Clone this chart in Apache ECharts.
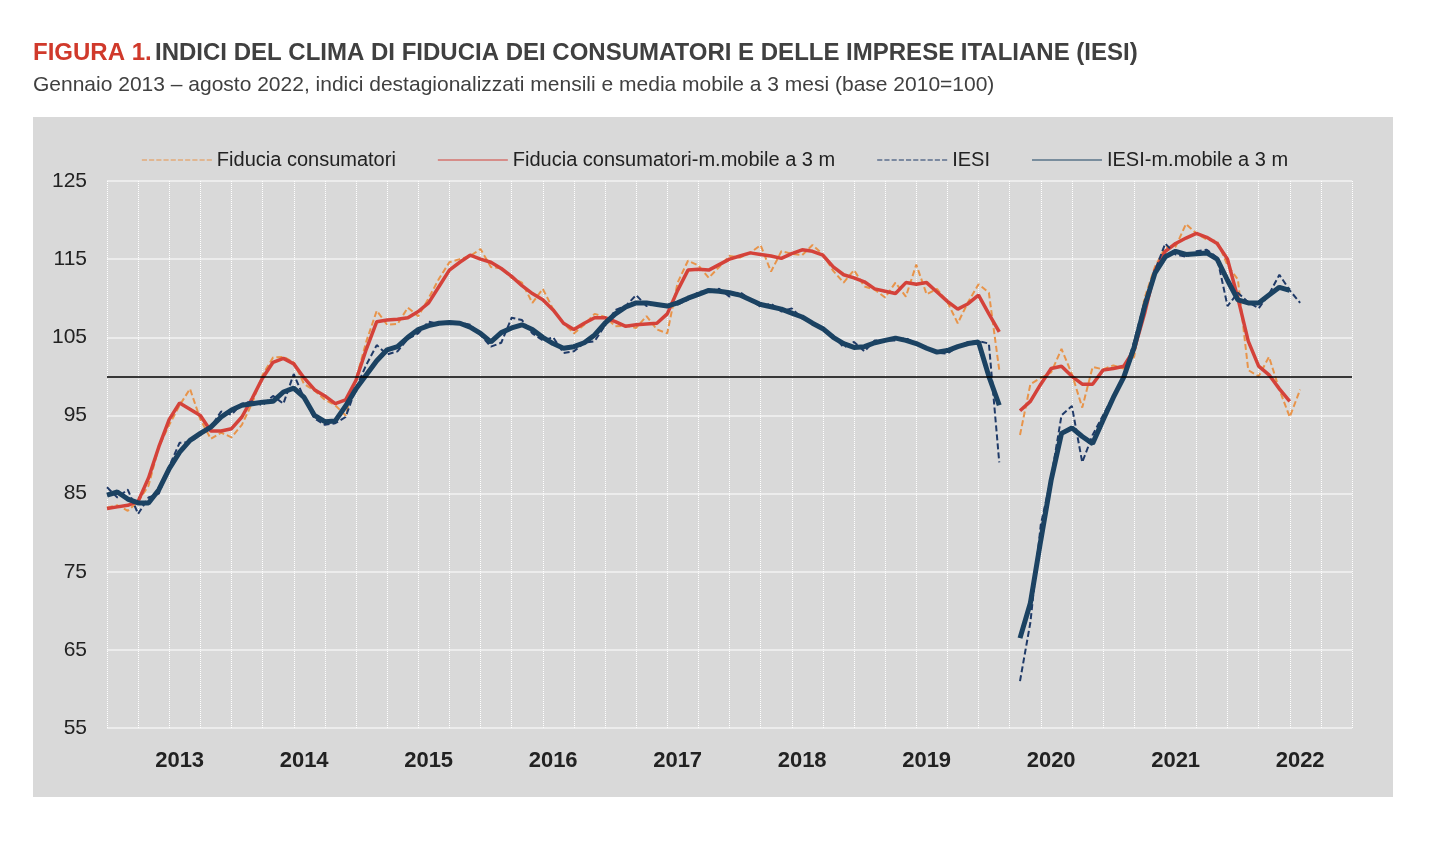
<!DOCTYPE html>
<html><head><meta charset="utf-8">
<script src="https://cdn.jsdelivr.net/npm/echarts@6/dist/echarts.min.js"></script>
<style>html,body{margin:0;padding:0;background:#fff}#c{width:1430px;height:860px}</style>
</head><body><div id="c"></div>
<script>
const startYear = 2013;
const nSlots = 121;
const yearTicks = ['2013','2014','2015','2016','2017','2018','2019','2020','2021','2022'];
const fiducia = [83.2,83.5,82.8,84,86,91,93.8,96.3,98.4,94.5,92,92.8,
92.2,93.8,96.6,100.2,102.4,102.5,101.8,99,98.2,97,96.3,95,
99.6,104.5,108.4,106.6,106.7,108.8,107.7,110,112.5,114.6,115,115.4,
116.3,114,113.8,112.6,112,109.4,111.2,108.6,106.8,105.5,106.6,108,
107.6,106.4,106.5,106.2,107.7,106,105.5,112,114.8,114.2,112.6,114,
115.4,115.2,115.8,116.8,113.4,116,115.7,115.5,116.8,115.6,113.5,112,
113.6,111.5,111.1,110.1,112,110.2,114.3,110.5,111.2,109.5,106.8,109.5,
111.8,110.7,100.8,null,92.5,99,99.8,100.5,103.5,100.3,96,101.2,
100.9,101.4,101,102.5,110,114,116.5,116.6,119.5,118.3,117.5,117.3,
114.2,112.4,100.8,100,102.5,98.3,94.8,98.3];
const fiduciaMM = [83.1,83.3,83.5,84,87,91,94.5,96.6,95.8,95,93,93,
93.3,94.8,97.2,99.8,101.8,102.3,101.6,99.8,98.3,97.5,96.5,97,
99.5,103.5,107,107.2,107.3,107.5,108.3,109.4,111.5,113.6,114.6,115.5,
115,114.6,113.8,112.8,111.6,110.6,109.8,108.5,106.8,106,106.8,107.5,
107.5,107,106.4,106.6,106.7,106.8,108,111,113.6,113.7,113.6,114.3,
115,115.4,115.8,115.6,115.4,115.1,115.7,116.2,116,115.5,114,113,
112.6,112.1,111.2,110.9,110.6,112,111.8,112,110.8,109.6,108.6,109.3,
110.4,108,105.7,null,95.6,96.8,99,101,101.3,100,99,99,
100.8,101,101.3,103.4,108,113.5,116,117,117.7,118.3,117.8,117,
115,110,104.5,101.3,100.2,98.4,96.8];
const iesi = [85.8,84.5,85.5,82.4,84.5,85,88.5,91.5,91.6,92.5,93.5,95.5,
95.1,96.5,96.8,96.3,97.5,96.5,100.3,97.2,94.6,93.8,94,94.8,
98.5,101.5,104,102.8,103.2,104.8,105.5,107,106.7,106.8,106.9,106.6,
105.3,103.8,104.3,107.5,107.2,105.5,104.6,105,103,103.2,104.3,104.5,
106.5,108.5,109,110.4,109,109.3,109,109.2,109.8,110.8,110.9,111.2,
110.2,110.8,109.8,108.9,109.3,108.3,108.7,107.4,106.9,106.1,105.2,103.7,
104.4,103.2,104.6,104.6,104.6,104.9,104.2,103.5,103,102.9,103.8,104.4,
104.5,104.2,89,null,61,68.5,81,87,95,96.2,89,92.5,
95,97.5,100,104.5,109.5,113.5,117,115.6,115.3,116,116.2,115.2,
109,110.7,109.5,108.7,110.5,113,111,109.4];
const iesiMM = [84.8,85.2,84.3,83.8,83.8,85.5,88.2,90.3,91.8,92.7,93.5,94.8,
95.7,96.3,96.5,96.7,96.8,98,98.5,97.3,95,94.2,94.3,96.2,
98.4,100.2,102,103.4,103.8,105,106,106.5,106.8,106.9,106.8,106.3,
105.5,104.4,105.6,106.2,106.6,106,105,104.2,103.6,103.8,104.3,105.3,
106.8,108,108.9,109.4,109.4,109.2,109,109.4,110,110.5,111,110.9,
110.7,110.4,109.8,109.2,108.9,108.6,108.1,107.6,106.8,106.1,105,104.2,
103.7,103.8,104.3,104.6,104.9,104.6,104.2,103.6,103.1,103.3,103.8,104.2,
104.4,100,96.3,null,66.5,71,79,86.7,92.7,93.4,92.3,91.4,
94.4,97.3,99.9,103.7,108.9,113.2,115.3,116,115.6,115.7,115.8,115,
112.3,109.8,109.4,109.4,110.4,111.4,111];

const cats = [];
for (let i = 0; i < nSlots; i++) cats.push(String(startYear + Math.floor(i / 12)) + '-' + (i % 12 + 1));
const FONT = "'Liberation Sans',Arial,sans-serif";
const dashIcon = 'path://M0,0H5V1H0ZM7,0H12V1H7ZM14,0H19V1H14ZM21,0H26V1H21ZM28,0H33V1H28ZM35,0H40V1H35ZM42,0H47V1H42ZM49,0H54V1H49ZM56,0H61V1H56ZM63,0H68V1H63Z';
const solidIcon = 'path://M0,0H68V1H0Z';
const chart = echarts.init(document.getElementById('c'));
chart.setOption({
  animation: false,
  textStyle: {fontFamily: FONT},
  graphic: [
    {type:'rect', shape:{x:33,y:117,width:1360,height:680}, style:{fill:'#d9d9d9'}, z:-10},
    {type:'text', left:33, top:41, style:{rich:{a:{fill:'#d0392b',fontWeight:'bold',fontSize:24,fontFamily:FONT},b:{fill:'#404040',fontWeight:'bold',fontSize:24,fontFamily:FONT}}, text:'{a|FIGURA 1.} {b|INDICI DEL CLIMA DI FIDUCIA DEI CONSUMATORI E DELLE IMPRESE ITALIANE (IESI)}'}},
    {type:'text', left:33, top:75, style:{text:'Gennaio 2013 – agosto 2022, indici destagionalizzati mensili e media mobile a 3 mesi (base 2010=100)', fill:'#404040', fontSize:21, fontFamily:FONT}}
  ],
  legend: {
    top: 145, left: 'center', itemWidth: 70, itemHeight: 3, itemGap: 42,
    textStyle: {fontSize: 20, color: '#222', fontFamily: FONT},
    data: [
      {name:'Fiducia consumatori', icon:dashIcon},
      {name:'Fiducia consumatori-m.mobile a 3 m', icon:solidIcon},
      {name:'IESI', icon:dashIcon},
      {name:'IESI-m.mobile a 3 m', icon:solidIcon}
    ]
  },
  grid: {left: 107, right: 78, top: 181, bottom: 132},
  xAxis: {
    type: 'category', data: cats, boundaryGap: false,
    axisLine: {show: false}, axisTick: {show: false},
    axisLabel: {
      interval: (i) => i % 12 === 7, margin: 22,
      formatter: (v) => v.split('-')[0],
      fontSize: 22, fontWeight: 'bold', color: '#222', fontFamily: FONT
    },
    splitLine: {show: true, interval: 2, lineStyle: {color: '#ffffff', type: 'dotted', width: 1}}
  },
  yAxis: {
    type: 'value', min: 55, max: 125, interval: 10,
    axisLine: {show: false}, axisTick: {show: false},
    axisLabel: {fontSize: 21, color: '#222', margin: 20, fontFamily: FONT},
    splitLine: {lineStyle: {color: '#f2f2f2', width: 1.5}}
  },
  series: [
    {name:'Fiducia consumatori', type:'line', data:fiducia, showSymbol:false, connectNulls:false,
     lineStyle:{color:'#e8944a', width:2, type:[6,3]}, itemStyle:{color:'#e8944a'},
     markLine:{silent:true, symbol:'none', label:{show:false}, lineStyle:{color:'#000', width:1.5, type:'solid'}, data:[{yAxis:100}]}},
    {name:'Fiducia consumatori-m.mobile a 3 m', type:'line', data:fiduciaMM, showSymbol:false,
     lineStyle:{color:'#d4423a', width:3.5}, itemStyle:{color:'#d4423a'}},
    {name:'IESI', type:'line', data:iesi, showSymbol:false,
     lineStyle:{color:'#1f3a68', width:2, type:[6,3]}, itemStyle:{color:'#1f3a68'}},
    {name:'IESI-m.mobile a 3 m', type:'line', data:iesiMM, showSymbol:false,
     lineStyle:{color:'#1b4262', width:5}, itemStyle:{color:'#1b4262'}}
  ]
});
</script></body></html>
